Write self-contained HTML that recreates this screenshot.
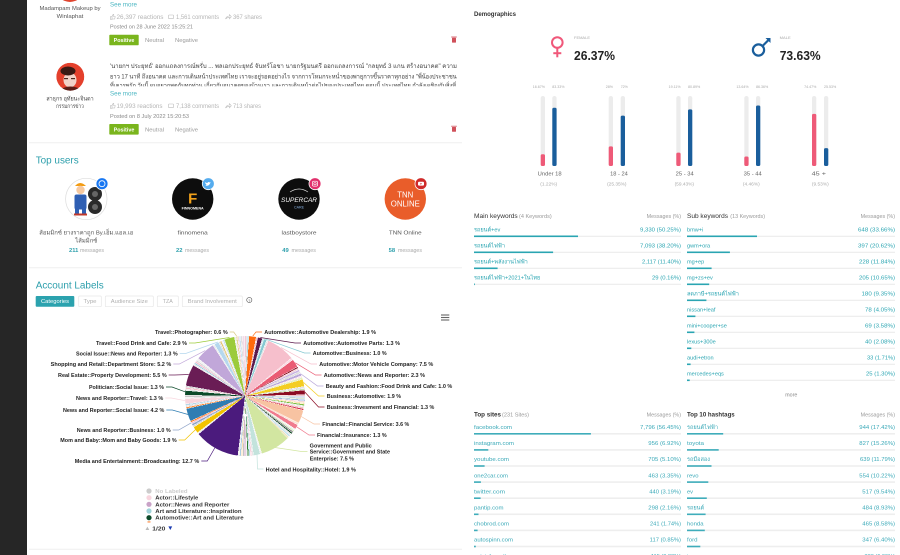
<!DOCTYPE html>
<html><head><meta charset="utf-8">
<style>
html,body{margin:0;padding:0;background:#fff;}
body{width:900px;height:555px;overflow:hidden;position:relative;}
svg{position:absolute;left:0;top:0;}
svg text{font-family:"Liberation Sans","DejaVu Sans","Noto Sans CJK SC",sans-serif;}
#pie{position:absolute;left:185px;top:335.5px;width:120px;height:120px;border-radius:50%;
background:conic-gradient(
#f6c7d5 0deg 1.1deg,#fff 1.1deg 1.5deg,
#cfcfcf 1.5deg 2.1deg,#fff 2.1deg 2.5deg,
#a9d6de 2.5deg 3.6deg,#fff 3.6deg 4deg,
#ff6a0d 4deg 10.6deg,#fff 10.6deg 11deg,
#f2c4cf 11deg 12.1deg,#fff 12.1deg 12.5deg,
#5b1a4c 12.5deg 16.6deg,#fff 16.6deg 17deg,
#cde9ee 17deg 18.1deg,#fff 18.1deg 18.5deg,
#86c9d2 18.5deg 21.1deg,#fff 21.1deg 21.5deg,
#e4e4e4 21.5deg 22.6deg,#fff 22.6deg 23deg,
#f6bfcc 23deg 50.6deg,#fff 50.6deg 51deg,
#f9dbe3 51deg 52.6deg,#fff 52.6deg 53deg,
#ea5c74 53deg 60.6deg,#fff 60.6deg 61deg,
#8b1a2b 61deg 62.1deg,#fff 62.1deg 62.5deg,
#f5d3da 62.5deg 63.6deg,#fff 63.6deg 64deg,
#c9b6e2 64deg 65.6deg,#fff 65.6deg 66deg,
#dedede 66deg 67.6deg,#fff 67.6deg 68deg,
#b9a7da 68deg 70.1deg,#fff 70.1deg 70.5deg,
#fbe3ea 70.5deg 71.6deg,#fff 71.6deg 72deg,
#e6f1bf 72deg 73.6deg,#fff 73.6deg 74deg,
#f4cd22 74deg 80.6deg,#fff 80.6deg 81deg,
#e3e3e3 81deg 82.6deg,#fff 82.6deg 83deg,
#c6dfb0 83deg 84.1deg,#fff 84.1deg 84.5deg,
#8c0c24 84.5deg 88.6deg,#fff 88.6deg 89deg,
#f4c7cc 89deg 90.1deg,#fff 90.1deg 90.5deg,
#b3c6df 90.5deg 91.6deg,#fff 91.6deg 92deg,
#dbead4 92deg 93.1deg,#fff 93.1deg 93.5deg,
#9db8e3 93.5deg 94.6deg,#fff 94.6deg 95deg,
#f7d8db 95deg 96.1deg,#fff 96.1deg 96.5deg,
#ffe5b0 96.5deg 97.6deg,#fff 97.6deg 98deg,
#7cbf45 98deg 99.1deg,#fff 99.1deg 99.5deg,
#e9e9e9 99.5deg 100.6deg,#fff 100.6deg 101deg,
#f2c3c3 101deg 102.1deg,#fff 102.1deg 102.5deg,
#d3304f 102.5deg 103.6deg,#fff 103.6deg 104deg,
#f8c3a2 104deg 116.6deg,#fff 116.6deg 117deg,
#fbe2d5 117deg 118.6deg,#fff 118.6deg 119deg,
#f07b8e 119deg 123.1deg,#fff 123.1deg 123.5deg,
#f1f1f1 123.5deg 124.6deg,#fff 124.6deg 125deg,
#dbecc6 125deg 126.1deg,#fff 126.1deg 126.5deg,
#8a8a8a 126.5deg 127.6deg,#fff 127.6deg 128deg,
#174d2b 128deg 129.1deg,#fff 129.1deg 129.5deg,
#e3e3e3 129.5deg 130.6deg,#fff 130.6deg 131deg,
#c9e4f0 131deg 132.6deg,#fff 132.6deg 133deg,
#efe4c0 133deg 134.6deg,#fff 134.6deg 135deg,
#d2e6a1 135deg 163.6deg,#fff 163.6deg 164deg,
#f2f2f2 164deg 165.1deg,#fff 165.1deg 165.5deg,
#c3e3dc 165.5deg 171.6deg,#fff 171.6deg 172deg,
#e6e6e6 172deg 173.1deg,#fff 173.1deg 173.5deg,
#f8d0dc 173.5deg 174.6deg,#fff 174.6deg 175deg,
#b4dbe9 175deg 176.1deg,#fff 176.1deg 176.5deg,
#2e7d32 176.5deg 177.6deg,#fff 177.6deg 178deg,
#f0f0f0 178deg 179.1deg,#fff 179.1deg 179.5deg,
#d3a6c9 179.5deg 180.6deg,#fff 180.6deg 181deg,
#c6c6c6 181deg 182.1deg,#fff 182.1deg 182.5deg,
#fde0b8 182.5deg 183.6deg,#fff 183.6deg 184deg,
#a9cce3 184deg 185.1deg,#fff 185.1deg 185.5deg,
#ececec 185.5deg 186.6deg,#fff 186.6deg 187deg,
#4b1b7d 187deg 230.6deg,#fff 230.6deg 231deg,
#ececec 231deg 232.1deg,#fff 232.1deg 232.5deg,
#f2c300 232.5deg 238.6deg,#fff 238.6deg 239deg,
#d6d6d6 239deg 240.1deg,#fff 240.1deg 240.5deg,
#8fa4c9 240.5deg 242.1deg,#fff 242.1deg 242.5deg,
#f3c1d1 242.5deg 243.6deg,#fff 243.6deg 244deg,
#ff7f2a 244deg 245.1deg,#fff 245.1deg 245.5deg,
#2f7db2 245.5deg 257.6deg,#fff 257.6deg 258deg,
#ff8c3a 258deg 259.1deg,#fff 259.1deg 259.5deg,
#e2e2e2 259.5deg 260.6deg,#fff 260.6deg 261deg,
#b7d7e8 261deg 262.1deg,#fff 262.1deg 262.5deg,
#f8d6de 262.5deg 267.1deg,#fff 267.1deg 267.5deg,
#e7e7e7 267.5deg 268.6deg,#fff 268.6deg 269deg,
#c7c7c7 269deg 270.6deg,#fff 270.6deg 271deg,
#0b4a29 271deg 275.1deg,#fff 275.1deg 275.5deg,
#e5e5e5 275.5deg 276.6deg,#fff 276.6deg 277deg,
#f5c1cb 277deg 278.1deg,#fff 278.1deg 278.5deg,
#d2d2d2 278.5deg 279.6deg,#fff 279.6deg 280deg,
#6a1d55 280deg 300.6deg,#fff 300.6deg 301deg,
#e8e8e8 301deg 302.1deg,#fff 302.1deg 302.5deg,
#9fcfe0 302.5deg 303.6deg,#fff 303.6deg 304deg,
#f7c0cf 304deg 305.1deg,#fff 305.1deg 305.5deg,
#dadada 305.5deg 306.6deg,#fff 306.6deg 307deg,
#f2f2f2 307deg 308.6deg,#fff 308.6deg 309deg,
#c1a7d9 309deg 327.6deg,#fff 327.6deg 328deg,
#ececec 328deg 329.1deg,#fff 329.1deg 329.5deg,
#b5d8ee 329.5deg 333.6deg,#fff 333.6deg 334deg,
#dddddd 334deg 335.1deg,#fff 335.1deg 335.5deg,
#e3c36b 335.5deg 336.6deg,#fff 336.6deg 337deg,
#f4f4f4 337deg 338.1deg,#fff 338.1deg 338.5deg,
#c5dff0 338.5deg 339.6deg,#fff 339.6deg 340deg,
#9ccb3b 340deg 349.6deg,#fff 349.6deg 350deg,
#eeeeee 350deg 351.1deg,#fff 351.1deg 351.5deg,
#e7d89b 351.5deg 352.6deg,#fff 352.6deg 353deg,
#f6d5e0 353deg 354.1deg,#fff 354.1deg 354.5deg,
#cbe3f3 354.5deg 355.6deg,#fff 355.6deg 356deg,
#e0e0e0 356deg 357.1deg,#fff 357.1deg 357.5deg,
#f2dbe8 357.5deg 359.6deg,#fff 359.6deg 360deg);}
</style></head><body>
<svg width="900" height="555" viewBox="0 0 900 555" xmlns="http://www.w3.org/2000/svg">
<defs>
<clipPath id="av2"><circle cx="70.3" cy="76.7" r="14"/></clipPath>
<clipPath id="line3"><rect x="100" y="60" width="370" height="26.3"/></clipPath>
<clipPath id="ua1"><circle cx="86.3" cy="199" r="20.3"/></clipPath>
</defs>
<rect x="0" y="0" width="900" height="555" fill="#fff"/>
<rect x="0" y="0" width="27" height="555" fill="#262626"/>

<!-- POST 1 -->
<circle cx="70" cy="-12" r="14" fill="#e0452f"/>
<text x="70" y="10" font-size="5.8" fill="#555" text-anchor="middle" textLength="61" lengthAdjust="spacingAndGlyphs">Madampam Makeup by</text>
<text x="70" y="18" font-size="5.8" fill="#555" text-anchor="middle" textLength="26.7" lengthAdjust="spacingAndGlyphs">Winlaphat</text>
<text x="110" y="6.5" font-size="6" fill="#4bb6c2" textLength="27" lengthAdjust="spacingAndGlyphs">See more</text>
<g stroke="#bbb" stroke-width="0.6" fill="none">
<path d="M110.5 16.5 h1.5 v3 h-1.5z M112 16.5 l1.2 -2.2 q0.8 0 0.6 1.2 l-0.2 1 h1.6 l-0.5 2.5 h-2.7"/>
<rect x="168.5" y="15" width="5" height="3.6" rx="0.5"/>
<path d="M225.5 19 q1 -3 4 -3 v-1.3 l1.8 2 -1.8 2 v-1.3 q-2.5 0 -4 1.6"/>
</g>
<text x="116.5" y="19.2" font-size="6.2" fill="#b5b5b5" textLength="47" lengthAdjust="spacingAndGlyphs">26,397 reactions</text>
<text x="176" y="19.2" font-size="6.2" fill="#b5b5b5" textLength="43" lengthAdjust="spacingAndGlyphs">1,561 comments</text>
<text x="233" y="19.2" font-size="6.2" fill="#b5b5b5" textLength="29" lengthAdjust="spacingAndGlyphs">367 shares</text>
<text x="110" y="28.7" font-size="5.8" fill="#8a8a8a" textLength="83" lengthAdjust="spacingAndGlyphs">Posted on 28 June 2022 15:25:21</text>
<rect x="109.3" y="34.7" width="29.4" height="10.6" fill="#7ab51d" rx="0.8"/>
<text x="124" y="42" font-size="5.8" font-weight="bold" fill="#fff" text-anchor="middle" textLength="20.7" lengthAdjust="spacingAndGlyphs">Positive</text>
<text x="145" y="42" font-size="5.8" fill="#9a9a9a" textLength="19" lengthAdjust="spacingAndGlyphs">Neutral</text>
<text x="175" y="42" font-size="5.8" fill="#9a9a9a" textLength="23" lengthAdjust="spacingAndGlyphs">Negative</text>
<g fill="#d0505a"><rect x="452" y="37.8" width="4" height="4.8" rx="0.5"/><rect x="451.2" y="36.6" width="5.6" height="0.8"/></g>

<!-- POST 2 -->
<g clip-path="url(#av2)">
<circle cx="70.3" cy="76.7" r="14" fill="#e4402c"/>
<ellipse cx="70" cy="80" rx="6.5" ry="7.5" fill="#f1d2c8"/>
<ellipse cx="68" cy="71" rx="7.5" ry="4.5" fill="#3a1a14"/>
<path d="M58 91 Q70 82 84 91 Z" fill="#5a1d16"/>
<rect x="64" y="78" width="4" height="1.2" fill="#4a2a22"/><rect x="71" y="78" width="4" height="1.2" fill="#4a2a22"/>
</g>
<text x="70" y="100.3" font-size="5.8" fill="#444" text-anchor="middle" textLength="47.3" lengthAdjust="spacingAndGlyphs">สาธุกร อุทัยนะจินดา</text>
<text x="70" y="108" font-size="5.8" fill="#444" text-anchor="middle" textLength="27.7" lengthAdjust="spacingAndGlyphs">กรรมการข่าว</text>
<text x="110" y="68" font-size="6.2" fill="#444" textLength="347" lengthAdjust="spacingAndGlyphs">'นายกฯ ประยุทธ์' ออกแถลงการณ์พรั่บ ... พลเอกประยุทธ์ จันทร์โอชา นายกรัฐมนตรี ออกแถลงการณ์ "กลยุทธ์ 3 แกน สร้างอนาคต" ความ</text>
<text x="110" y="78.3" font-size="6.2" fill="#444" textLength="346.7" lengthAdjust="spacingAndGlyphs">ยาว 17 นาที ถึงอนาคต และการเดินหน้าประเทศไทย เราจะอยู่รอดอย่างไร จากการโหมกระหน่ำของพายุการขึ้นราคาทุกอย่าง "พี่น้องประชาชน</text>
<g clip-path="url(#line3)"><text x="110" y="87.5" font-size="6.2" fill="#444" textLength="346" lengthAdjust="spacingAndGlyphs">ที่เคารพรัก วันนี้ ผมอยากพูดกับทุกท่าน เกี่ยวกับอนาคตของบ้านเรา และการเดินหน้าต่อไปของประเทศไทย ตอนนี้ ประเทศไทย กำลังเผชิญกับสิ่งที่</text></g>
<text x="110" y="95.7" font-size="6" fill="#4bb6c2" textLength="27" lengthAdjust="spacingAndGlyphs">See more</text>
<g stroke="#bbb" stroke-width="0.6" fill="none">
<path d="M110.5 105.5 h1.5 v3 h-1.5z M112 105.5 l1.2 -2.2 q0.8 0 0.6 1.2 l-0.2 1 h1.6 l-0.5 2.5 h-2.7"/>
<rect x="168.5" y="104" width="5" height="3.6" rx="0.5"/>
<path d="M225.5 108 q1 -3 4 -3 v-1.3 l1.8 2 -1.8 2 v-1.3 q-2.5 0 -4 1.6"/>
</g>
<text x="116.5" y="108.2" font-size="6.2" fill="#b5b5b5" textLength="46" lengthAdjust="spacingAndGlyphs">19,993 reactions</text>
<text x="176" y="108.2" font-size="6.2" fill="#b5b5b5" textLength="43" lengthAdjust="spacingAndGlyphs">7,138 comments</text>
<text x="233" y="108.2" font-size="6.2" fill="#b5b5b5" textLength="28" lengthAdjust="spacingAndGlyphs">713 shares</text>
<text x="110" y="118" font-size="5.8" fill="#8a8a8a" textLength="79" lengthAdjust="spacingAndGlyphs">Posted on 8 July 2022 15:20:53</text>
<rect x="109.3" y="124" width="29.4" height="10.6" fill="#7ab51d" rx="0.8"/>
<text x="124" y="131.3" font-size="5.8" font-weight="bold" fill="#fff" text-anchor="middle" textLength="20.7" lengthAdjust="spacingAndGlyphs">Positive</text>
<text x="145" y="131.3" font-size="5.8" fill="#9a9a9a" textLength="19" lengthAdjust="spacingAndGlyphs">Neutral</text>
<text x="175" y="131.3" font-size="5.8" fill="#9a9a9a" textLength="23" lengthAdjust="spacingAndGlyphs">Negative</text>
<g fill="#d0505a"><rect x="452" y="127" width="4" height="4.8" rx="0.5"/><rect x="451.2" y="125.8" width="5.6" height="0.8"/></g>
<line x1="29" y1="142.7" x2="462" y2="142.7" stroke="#efefef" stroke-width="1"/>

<!-- TOP USERS -->
<text x="35.7" y="163.5" font-size="10" fill="#2d9fac" textLength="43" lengthAdjust="spacingAndGlyphs">Top users</text>
<!-- avatar 1 -->
<circle cx="86.3" cy="199" r="20.7" fill="#fff" stroke="#dcdcdc" stroke-width="0.7"/>
<g clip-path="url(#ua1)">
<circle cx="95" cy="194" r="7" fill="#2a2a2a"/><circle cx="95" cy="194" r="3" fill="#666"/>
<circle cx="95" cy="207" r="7" fill="#2a2a2a"/><circle cx="95" cy="207" r="3" fill="#666"/>
<path d="M75 186 q5 -6 11 0 z" fill="#f39c12"/>
<circle cx="80.5" cy="190" r="4.2" fill="#f6c9a0"/>
<rect x="74.5" y="194.5" width="12" height="15" rx="2" fill="#2f5fb3"/>
<rect x="75" y="209" width="4" height="5" fill="#2f5fb3"/><rect x="82" y="209" width="4" height="5" fill="#2f5fb3"/>
<rect x="74" y="213.5" width="13" height="2" fill="#c0392b"/>
</g>
<!-- avatar 2 -->
<circle cx="192.7" cy="199" r="20.7" fill="#0d0d0d"/>
<text x="192.7" y="203.5" font-size="15" font-weight="bold" fill="#f2a21b" text-anchor="middle">F</text>
<text x="192.7" y="209.5" font-size="3.4" font-weight="bold" fill="#fff" text-anchor="middle" textLength="22" lengthAdjust="spacingAndGlyphs">FINNOMENA</text>
<!-- avatar 3 -->
<circle cx="299" cy="199" r="20.7" fill="#0d0d0d"/>
<path d="M290 192 q9 -6 18 0" stroke="#ddd" stroke-width="0.7" fill="none"/>
<text x="299" y="202" font-size="6.8" font-style="italic" fill="#fff" text-anchor="middle" textLength="36" lengthAdjust="spacingAndGlyphs">SUPERCAR</text>
<text x="299" y="208.5" font-size="3.4" fill="#8ab4e6" text-anchor="middle" textLength="10" lengthAdjust="spacingAndGlyphs">CARE</text>
<!-- avatar 4 -->
<circle cx="405.3" cy="199" r="20.7" fill="#e95d2a"/>
<text x="405.3" y="197.5" font-size="8" fill="#fff" text-anchor="middle" textLength="16" lengthAdjust="spacingAndGlyphs">TNN</text>
<text x="405.3" y="206.5" font-size="8" fill="#fff" text-anchor="middle" textLength="29" lengthAdjust="spacingAndGlyphs">ONLINE</text>
<!-- badges -->
<circle cx="102" cy="183.7" r="6" fill="#1877f2" stroke="#fff" stroke-width="0.8"/>
<circle cx="102" cy="183.7" r="3" fill="none" stroke="#fff" stroke-width="0.8"/>
<circle cx="208.3" cy="183.7" r="6" fill="#55acee" stroke="#fff" stroke-width="0.8"/>
<path d="M205.5 185.5 q3 1 4.5 -2 l0.8 -1.2 -1 0.2 q-1.5 -1.2 -2.5 0.5 q-1.5 0 -2.2 -1 q0 2 1.5 2.5 q-0.8 0.5 -1.1 1z" fill="#fff"/>
<circle cx="315" cy="183.7" r="6" fill="#e1306c" stroke="#fff" stroke-width="0.8"/>
<rect x="312.5" y="181.2" width="5" height="5" rx="1.3" fill="none" stroke="#fff" stroke-width="0.7"/>
<circle cx="315" cy="183.7" r="1.2" fill="none" stroke="#fff" stroke-width="0.6"/>
<circle cx="421" cy="183.7" r="6" fill="#cf2a2a" stroke="#fff" stroke-width="0.8"/>
<rect x="418" y="181.8" width="6" height="3.8" rx="1" fill="#fff"/>
<path d="M420.4 182.7 v2 l1.6 -1z" fill="#cf2a2a"/>
<!-- names -->
<text x="86.3" y="234.7" font-size="5.8" fill="#555" text-anchor="middle" textLength="94" lengthAdjust="spacingAndGlyphs">ส้อมมิกซ์ ยางราคาถูก By.เอ็ม.แอล.เอ</text>
<text x="86.3" y="242.7" font-size="5.8" fill="#555" text-anchor="middle" textLength="22" lengthAdjust="spacingAndGlyphs">ไส้มมิกซ์</text>
<text x="192.7" y="234.7" font-size="5.8" fill="#555" text-anchor="middle" textLength="30" lengthAdjust="spacingAndGlyphs">finnomena</text>
<text x="299" y="234.7" font-size="5.8" fill="#555" text-anchor="middle" textLength="35" lengthAdjust="spacingAndGlyphs">lastboystore</text>
<text x="405.3" y="234.7" font-size="5.8" fill="#555" text-anchor="middle" textLength="32.7" lengthAdjust="spacingAndGlyphs">TNN Online</text>
<g font-size="5.2">
<text x="69" y="252" font-weight="bold" fill="#2d9fac" textLength="9.3" lengthAdjust="spacingAndGlyphs">211</text>
<text x="80" y="252" fill="#aaa" textLength="24" lengthAdjust="spacingAndGlyphs">messages</text>
<text x="176" y="252" font-weight="bold" fill="#2d9fac" textLength="6.5" lengthAdjust="spacingAndGlyphs">22</text>
<text x="185" y="252" fill="#aaa" textLength="24" lengthAdjust="spacingAndGlyphs">messages</text>
<text x="282.3" y="252" font-weight="bold" fill="#2d9fac" textLength="6.5" lengthAdjust="spacingAndGlyphs">49</text>
<text x="291.5" y="252" fill="#aaa" textLength="24.5" lengthAdjust="spacingAndGlyphs">messages</text>
<text x="388.7" y="252" font-weight="bold" fill="#2d9fac" textLength="6.5" lengthAdjust="spacingAndGlyphs">58</text>
<text x="398" y="252" fill="#aaa" textLength="24" lengthAdjust="spacingAndGlyphs">messages</text>
</g>
<line x1="29" y1="267.7" x2="462" y2="267.7" stroke="#efefef" stroke-width="1"/>

<!-- ACCOUNT LABELS -->
<text x="35.7" y="288.5" font-size="10" fill="#2d9fac" textLength="68" lengthAdjust="spacingAndGlyphs">Account Labels</text>
<rect x="35.7" y="296" width="38.6" height="10.7" rx="1" fill="#2ba2ae"/>
<text x="55" y="303.2" font-size="5.3" fill="#fff" text-anchor="middle" textLength="28" lengthAdjust="spacingAndGlyphs">Categories</text>
<g fill="#fff" stroke="#e6e6e6" stroke-width="0.7">
<rect x="78.7" y="296" width="22.6" height="10.7" rx="1"/>
<rect x="105.3" y="296" width="48" height="10.7" rx="1"/>
<rect x="157.3" y="296" width="21" height="10.7" rx="1"/>
<rect x="182.3" y="296" width="60" height="10.7" rx="1"/>
</g>
<g font-size="5.3" fill="#b0b0b0" text-anchor="middle">
<text x="90" y="303.2" textLength="13" lengthAdjust="spacingAndGlyphs">Type</text>
<text x="129.3" y="303.2" textLength="37" lengthAdjust="spacingAndGlyphs">Audience Size</text>
<text x="167.8" y="303.2" textLength="10" lengthAdjust="spacingAndGlyphs">TZA</text>
<text x="212.3" y="303.2" textLength="49" lengthAdjust="spacingAndGlyphs">Brand Involvement</text>
</g>
<circle cx="249.3" cy="300" r="2.6" fill="none" stroke="#555" stroke-width="0.6"/>
<text x="249.3" y="301.8" font-size="4" fill="#555" text-anchor="middle">?</text>
<g stroke="#666" stroke-width="1.1"><line x1="441" y1="315" x2="449.3" y2="315"/><line x1="441" y1="317.5" x2="449.3" y2="317.5"/><line x1="441" y1="320" x2="449.3" y2="320"/></g>

<!-- connectors -->
<g fill="none" stroke-width="0.7">
<polyline points="252.8,336 256,332 262,332" stroke="#ff6a0d"/>
<polyline points="260.3,337.5 295,343 301,343" stroke="#5b1a4c"/>
<polyline points="265.5,339.1 304.5,353 310.5,353" stroke="#86c9d2"/>
<polyline points="281.1,347.6 311,364 317,364" stroke="#f6bfcc"/>
<polyline points="295.3,362.8 315.5,375 321.5,375" stroke="#ea5c74"/>
<polyline points="301,374 317.5,386 323.5,386" stroke="#b9a7da"/>
<polyline points="303.6,382.5 318.5,396 324.5,396" stroke="#f4cd22"/>
<polyline points="304.9,392.1 318.5,407 324.5,407" stroke="#8c0c24"/>
<polyline points="301.2,416.5 314,424 320,424" stroke="#f8c3a2"/>
<polyline points="296.3,426.6 309,435 315,435" stroke="#f07b8e"/>
<polyline points="275,447.5 301.5,451.5 307.5,451.5" stroke="#d2e6a1"/>
<polyline points="257,454.3 257.5,469 263.5,469" stroke="#c3e3dc"/>
<polyline points="236.6,336.1 233.7,332 229.7,332" stroke="#d9c884"/>
<polyline points="229.5,337.5 195,343 189,343" stroke="#9ccb3b"/>
<polyline points="217.8,342 185.7,353.5 179.7,353.5" stroke="#b5d8ee"/>
<polyline points="205.2,350.6 179.3,364 173.3,364" stroke="#c1a7d9"/>
<polyline points="188.8,374.5 174.7,375 168.7,375" stroke="#6a1d55"/>
<polyline points="185.1,391.8 172,387 166,387" stroke="#0b4a29"/>
<polyline points="185.2,400.7 171.3,398 165.3,398" stroke="#f8d6de"/>
<polyline points="188.1,414.5 172.3,410 166.3,410" stroke="#2f7db2"/>
<polyline points="191.5,422.7 178.7,430 172.7,430" stroke="#8fa4c9"/>
<polyline points="195.6,429.5 184.7,440 178.7,440" stroke="#f2c300"/>
<polyline points="215,447.5 207.3,461 201.3,461" stroke="#4b1b7d"/>
</g>
<!-- pie labels -->
<g font-size="5.5" font-weight="bold" fill="#222">
<text x="227.7" y="334" text-anchor="end" textLength="72.7" lengthAdjust="spacingAndGlyphs">Travel::Photographer: 0.6 %</text>
<text x="187" y="345" text-anchor="end" textLength="91" lengthAdjust="spacingAndGlyphs">Travel::Food Drink and Cafe: 2.9 %</text>
<text x="177.7" y="355.5" text-anchor="end" textLength="101.7" lengthAdjust="spacingAndGlyphs">Social Issue::News and Reporter: 1.3 %</text>
<text x="171.3" y="366" text-anchor="end" textLength="120.6" lengthAdjust="spacingAndGlyphs">Shopping and Retail::Department Store: 5.2 %</text>
<text x="166.7" y="377" text-anchor="end" textLength="108.7" lengthAdjust="spacingAndGlyphs">Real Estate::Property Development: 5.5 %</text>
<text x="164" y="389" text-anchor="end" textLength="75" lengthAdjust="spacingAndGlyphs">Politician::Social Issue: 1.3 %</text>
<text x="163.3" y="400" text-anchor="end" textLength="87.3" lengthAdjust="spacingAndGlyphs">News and Reporter::Travel: 1.3 %</text>
<text x="164.3" y="412" text-anchor="end" textLength="101.3" lengthAdjust="spacingAndGlyphs">News and Reporter::Social Issue: 4.2 %</text>
<text x="170.7" y="432" text-anchor="end" textLength="94" lengthAdjust="spacingAndGlyphs">News and Reporter::Business: 1.0 %</text>
<text x="176.7" y="442" text-anchor="end" textLength="116.4" lengthAdjust="spacingAndGlyphs">Mom and Baby::Mom and Baby Goods: 1.9 %</text>
<text x="199.3" y="463" text-anchor="end" textLength="124.6" lengthAdjust="spacingAndGlyphs">Media and Entertainment::Broadcasting: 12.7 %</text>
<text x="264.3" y="334" textLength="111.7" lengthAdjust="spacingAndGlyphs">Automotive::Automotive Dealership: 1.9 %</text>
<text x="303.3" y="345" textLength="96.7" lengthAdjust="spacingAndGlyphs">Automotive::Automotive Parts: 1.3 %</text>
<text x="312.7" y="355" textLength="74" lengthAdjust="spacingAndGlyphs">Automotive::Business: 1.0 %</text>
<text x="319.3" y="366" textLength="114" lengthAdjust="spacingAndGlyphs">Automotive::Motor Vehicle Company: 7.5 %</text>
<text x="323.7" y="377" textLength="101.3" lengthAdjust="spacingAndGlyphs">Automotive::News and Reporter: 2.3 %</text>
<text x="325.7" y="388" textLength="126.6" lengthAdjust="spacingAndGlyphs">Beauty and Fashion::Food Drink and Cafe: 1.0 %</text>
<text x="326.7" y="398" textLength="74.3" lengthAdjust="spacingAndGlyphs">Business::Automotive: 1.9 %</text>
<text x="326.7" y="409" textLength="107.6" lengthAdjust="spacingAndGlyphs">Business::Invesment and Financial: 1.3 %</text>
<text x="322.3" y="426" textLength="87" lengthAdjust="spacingAndGlyphs">Financial::Financial Service: 3.6 %</text>
<text x="317" y="437" textLength="69.7" lengthAdjust="spacingAndGlyphs">Financial::Insurance: 1.3 %</text>
<text x="309.7" y="447.3" textLength="62" lengthAdjust="spacingAndGlyphs">Government and Public</text>
<text x="309.7" y="453.7" textLength="80.3" lengthAdjust="spacingAndGlyphs">Service::Government and State</text>
<text x="309.7" y="460.3" textLength="44.3" lengthAdjust="spacingAndGlyphs">Enterprise: 7.5 %</text>
<text x="265.7" y="471.3" textLength="90.3" lengthAdjust="spacingAndGlyphs">Hotel and Hospitality::Hotel: 1.9 %</text>
</g>
<!-- legend -->
<circle cx="149" cy="491" r="2.6" fill="#cccccc"/>
<circle cx="149" cy="497.7" r="2.6" fill="#f8d5de"/>
<circle cx="149" cy="504.3" r="2.6" fill="#c9a3c7"/>
<circle cx="149" cy="511" r="2.6" fill="#9fd3d9"/>
<circle cx="149" cy="517.7" r="2.6" fill="#0d4a2a"/>
<rect x="147.5" y="521.5" width="3" height="0.9" fill="#ff6a0d"/>
<g font-size="5.6" font-weight="bold">
<text x="155.3" y="493" fill="#cccccc" textLength="32.3" lengthAdjust="spacingAndGlyphs">No Labeled</text>
<text x="155.3" y="499.7" fill="#333" textLength="43" lengthAdjust="spacingAndGlyphs">Actor::Lifestyle</text>
<text x="155.3" y="506.3" fill="#333" textLength="74" lengthAdjust="spacingAndGlyphs">Actor::News and Reporter</text>
<text x="155.3" y="513" fill="#333" textLength="86.3" lengthAdjust="spacingAndGlyphs">Art and Literature::Inspiration</text>
<text x="155.3" y="519.7" fill="#333" textLength="88.3" lengthAdjust="spacingAndGlyphs">Automotive::Art and Literature</text>
<text x="152.3" y="530.3" fill="#333" textLength="13" lengthAdjust="spacingAndGlyphs">1/20</text>
</g>
<path d="M145.5 530 l1.9 -3.4 1.9 3.4z" fill="#bbb"/>
<path d="M168.4 526.4 h3.8 l-1.9 3.6z" fill="#1a3ab0"/>
<line x1="29" y1="549.3" x2="462" y2="549.3" stroke="#efefef" stroke-width="1"/>

<!-- DEMOGRAPHICS -->
<text x="474" y="16.2" font-size="6.2" font-weight="bold" fill="#333" textLength="42" lengthAdjust="spacingAndGlyphs">Demographics</text>
<g stroke="#f0587a" stroke-width="2" fill="none">
<circle cx="557.3" cy="42.5" r="5.3"/>
<line x1="557.3" y1="47.8" x2="557.3" y2="57.3"/>
<line x1="553.3" y1="53.2" x2="561.3" y2="53.2"/>
</g>
<g stroke="#1a5e9c" stroke-width="2.2" fill="none">
<circle cx="758.5" cy="50" r="5.6"/>
<line x1="762.5" y1="46" x2="769" y2="39.5"/>
</g>
<path d="M765.5 38 h5 v5 z" fill="#1a5e9c"/>
<text x="574" y="39.2" font-size="4" fill="#aaa" textLength="16" lengthAdjust="spacingAndGlyphs">FEMALE</text>
<text x="574" y="60" font-size="12.5" font-weight="bold" fill="#222" textLength="41" lengthAdjust="spacingAndGlyphs">26.37%</text>
<text x="779.7" y="39.2" font-size="4" fill="#aaa" textLength="11" lengthAdjust="spacingAndGlyphs">MALE</text>
<text x="779.7" y="60" font-size="12.5" font-weight="bold" fill="#222" textLength="41" lengthAdjust="spacingAndGlyphs">73.63%</text>
<g fill="#ececec">
<rect x="540.7" y="96" width="4.3" height="70" rx="2.1"/><rect x="552.3" y="96" width="4.3" height="70" rx="2.1"/>
<rect x="608.7" y="96" width="4.3" height="70" rx="2.1"/><rect x="620.7" y="96" width="4.3" height="70" rx="2.1"/>
<rect x="676.3" y="96" width="4.3" height="70" rx="2.1"/><rect x="688" y="96" width="4.3" height="70" rx="2.1"/>
<rect x="744.3" y="96" width="4.3" height="70" rx="2.1"/><rect x="756" y="96" width="4.3" height="70" rx="2.1"/>
<rect x="812" y="96" width="4.3" height="70" rx="2.1"/><rect x="824" y="96" width="4.3" height="70" rx="2.1"/>
</g>
<g fill="#ee5a78">
<rect x="540.7" y="154.3" width="4.3" height="11.7" rx="1.5"/>
<rect x="608.7" y="146.4" width="4.3" height="19.6" rx="1.5"/>
<rect x="676.3" y="152.6" width="4.3" height="13.4" rx="1.5"/>
<rect x="744.3" y="156.5" width="4.3" height="9.5" rx="1.5"/>
<rect x="812" y="113.9" width="4.3" height="52.1" rx="1.5"/>
</g>
<g fill="#1a5e9c">
<rect x="552.3" y="107.7" width="4.3" height="58.3" rx="1.5"/>
<rect x="620.7" y="115.6" width="4.3" height="50.4" rx="1.5"/>
<rect x="688" y="109.4" width="4.3" height="56.6" rx="1.5"/>
<rect x="756" y="105.5" width="4.3" height="60.5" rx="1.5"/>
<rect x="824" y="148.1" width="4.3" height="17.9" rx="1.5"/>
</g>
<g font-size="3.6" fill="#aaa">
<text x="545" y="88" text-anchor="end">16.67%</text><text x="552.3" y="88">83.33%</text>
<text x="613" y="88" text-anchor="end">28%</text><text x="620.7" y="88">72%</text>
<text x="680.6" y="88" text-anchor="end">19.11%</text><text x="688" y="88">80.89%</text>
<text x="748.6" y="88" text-anchor="end">13.64%</text><text x="756" y="88">86.36%</text>
<text x="816.3" y="88" text-anchor="end">74.47%</text><text x="824" y="88">25.53%</text>
</g>
<g font-size="5.5" fill="#666" text-anchor="middle">
<text x="549.7" y="175.7" textLength="24" lengthAdjust="spacingAndGlyphs">Under 18</text>
<text x="619" y="175.7" textLength="17.7" lengthAdjust="spacingAndGlyphs">18 - 24</text>
<text x="684.7" y="175.7" textLength="18" lengthAdjust="spacingAndGlyphs">25 - 34</text>
<text x="752.7" y="175.7" textLength="18" lengthAdjust="spacingAndGlyphs">35 - 44</text>
<text x="818.8" y="175.7" textLength="14.3" lengthAdjust="spacingAndGlyphs">45 +</text>
</g>
<g font-size="4.8" fill="#aaa" text-anchor="middle">
<text x="548.7" y="185.5">(1.22%)</text>
<text x="616.8" y="185.5">(25.35%)</text>
<text x="684.3" y="185.5">(59.43%)</text>
<text x="751.3" y="185.5">(4.46%)</text>
<text x="820.3" y="185.5">(9.53%)</text>
</g>

<!-- MAIN KEYWORDS -->
<text x="474" y="218.2" font-size="6.4" fill="#333" textLength="43.7" lengthAdjust="spacingAndGlyphs">Main keywords</text>
<text x="519" y="218.2" font-size="5.3" fill="#999" textLength="32.7" lengthAdjust="spacingAndGlyphs">(4 Keywords)</text>
<text x="681" y="218.2" font-size="5.3" fill="#999" text-anchor="end" textLength="34.3" lengthAdjust="spacingAndGlyphs">Messages (%)</text>
<text x="687" y="218.2" font-size="6.4" fill="#333" textLength="41" lengthAdjust="spacingAndGlyphs">Sub keywords</text>
<text x="730.3" y="218.2" font-size="5.3" fill="#999" textLength="34.7" lengthAdjust="spacingAndGlyphs">(13 Keywords)</text>
<text x="895" y="218.2" font-size="5.3" fill="#999" text-anchor="end" textLength="34.3" lengthAdjust="spacingAndGlyphs">Messages (%)</text>
<g fill="#eeeeee">
<rect x="474" y="235.7" width="207" height="1.3"/><rect x="474" y="251.7" width="207" height="1.3"/><rect x="474" y="267.7" width="207" height="1.3"/><rect x="474" y="283.7" width="207" height="1.3"/>
<rect x="687" y="235.7" width="208" height="1.3"/><rect x="687" y="251.7" width="208" height="1.3"/><rect x="687" y="267.7" width="208" height="1.3"/><rect x="687" y="283.7" width="208" height="1.3"/><rect x="687" y="299.7" width="208" height="1.3"/><rect x="687" y="315.7" width="208" height="1.3"/><rect x="687" y="331.7" width="208" height="1.3"/><rect x="687" y="347.7" width="208" height="1.3"/><rect x="687" y="363.7" width="208" height="1.3"/><rect x="687" y="379.7" width="208" height="1.3"/>
</g>
<g fill="#2aa5b2">
<rect x="474" y="235.5" width="104" height="1.6"/><rect x="474" y="251.5" width="79.1" height="1.6"/><rect x="474" y="267.5" width="23.6" height="1.6"/><rect x="474" y="283.5" width="0.8" height="1.6"/>
<rect x="687" y="235.5" width="70" height="1.6"/><rect x="687" y="251.5" width="42.9" height="1.6"/><rect x="687" y="267.5" width="24.6" height="1.6"/><rect x="687" y="283.5" width="22.2" height="1.6"/><rect x="687" y="299.5" width="19.4" height="1.6"/><rect x="687" y="315.5" width="8.4" height="1.6"/><rect x="687" y="331.5" width="7.4" height="1.6"/><rect x="687" y="347.5" width="4.3" height="1.6"/><rect x="687" y="363.5" width="3.6" height="1.6"/><rect x="687" y="379.5" width="2.7" height="1.6"/>
</g>
<g font-size="5.6" fill="#2aa5b2">
<text x="474" y="231.7">รถยนต์+ev</text>
<text x="474" y="247.7">รถยนต์ไฟฟ้า</text>
<text x="474" y="263.7">รถยนต์+พลังงานไฟฟ้า</text>
<text x="474" y="279.7">รถยนต์ไฟฟ้า+2021+ในไทย</text>
<text x="681" y="231.7" text-anchor="end" textLength="41" lengthAdjust="spacingAndGlyphs">9,330 (50.25%)</text>
<text x="681" y="247.7" text-anchor="end" textLength="41" lengthAdjust="spacingAndGlyphs">7,093 (38.20%)</text>
<text x="681" y="263.7" text-anchor="end" textLength="39" lengthAdjust="spacingAndGlyphs">2,117 (11.40%)</text>
<text x="681" y="279.7" text-anchor="end" textLength="29" lengthAdjust="spacingAndGlyphs">29 (0.16%)</text>
<text x="687" y="231.7">bmw+i</text>
<text x="687" y="247.7">gwm+ora</text>
<text x="687" y="263.7">mg+ep</text>
<text x="687" y="279.7">mg+zs+ev</text>
<text x="687" y="295.7">ลดภาษี+รถยนต์ไฟฟ้า</text>
<text x="687" y="311.7">nissan+leaf</text>
<text x="687" y="327.7">mini+cooper+se</text>
<text x="687" y="343.7">lexus+300e</text>
<text x="687" y="359.7">audi+etron</text>
<text x="687" y="375.7">mercedes+eqs</text>
<text x="895" y="231.7" text-anchor="end" textLength="37" lengthAdjust="spacingAndGlyphs">648 (33.66%)</text>
<text x="895" y="247.7" text-anchor="end" textLength="37" lengthAdjust="spacingAndGlyphs">397 (20.62%)</text>
<text x="895" y="263.7" text-anchor="end" textLength="36" lengthAdjust="spacingAndGlyphs">228 (11.84%)</text>
<text x="895" y="279.7" text-anchor="end" textLength="36" lengthAdjust="spacingAndGlyphs">205 (10.65%)</text>
<text x="895" y="295.7" text-anchor="end" textLength="33.5" lengthAdjust="spacingAndGlyphs">180 (9.35%)</text>
<text x="895" y="311.7" text-anchor="end" textLength="30" lengthAdjust="spacingAndGlyphs">78 (4.05%)</text>
<text x="895" y="327.7" text-anchor="end" textLength="30" lengthAdjust="spacingAndGlyphs">69 (3.58%)</text>
<text x="895" y="343.7" text-anchor="end" textLength="30" lengthAdjust="spacingAndGlyphs">40 (2.08%)</text>
<text x="895" y="359.7" text-anchor="end" textLength="28" lengthAdjust="spacingAndGlyphs">33 (1.71%)</text>
<text x="895" y="375.7" text-anchor="end" textLength="29" lengthAdjust="spacingAndGlyphs">25 (1.30%)</text>
</g>
<text x="791.3" y="396.7" font-size="5.3" fill="#888" text-anchor="middle">more</text>

<!-- TOP SITES / HASHTAGS -->
<text x="474" y="416.3" font-size="6.2" font-weight="bold" fill="#333" textLength="27" lengthAdjust="spacingAndGlyphs">Top sites</text>
<text x="502" y="416.3" font-size="5.3" fill="#999" textLength="27" lengthAdjust="spacingAndGlyphs">(231 Sites)</text>
<text x="681" y="416.3" font-size="5.3" fill="#999" text-anchor="end" textLength="34.3" lengthAdjust="spacingAndGlyphs">Messages (%)</text>
<text x="687" y="416.3" font-size="6.2" font-weight="bold" fill="#333" textLength="47.7" lengthAdjust="spacingAndGlyphs">Top 10 hashtags</text>
<text x="895" y="416.3" font-size="5.3" fill="#999" text-anchor="end" textLength="34.3" lengthAdjust="spacingAndGlyphs">Messages (%)</text>
<g fill="#eeeeee">
<rect x="474" y="433" width="207" height="1.6"/><rect x="474" y="449.1" width="207" height="1.6"/><rect x="474" y="465.2" width="207" height="1.6"/><rect x="474" y="481.3" width="207" height="1.6"/><rect x="474" y="497.4" width="207" height="1.6"/><rect x="474" y="513.5" width="207" height="1.6"/><rect x="474" y="529.6" width="207" height="1.6"/><rect x="474" y="545.7" width="207" height="1.6"/>
<rect x="687" y="433" width="208" height="1.6"/><rect x="687" y="449.1" width="208" height="1.6"/><rect x="687" y="465.2" width="208" height="1.6"/><rect x="687" y="481.3" width="208" height="1.6"/><rect x="687" y="497.4" width="208" height="1.6"/><rect x="687" y="513.5" width="208" height="1.6"/><rect x="687" y="529.6" width="208" height="1.6"/><rect x="687" y="545.7" width="208" height="1.6"/>
</g>
<g fill="#3fadbb">
<rect x="474" y="433" width="116.9" height="1.6"/><rect x="474" y="449.1" width="14.3" height="1.6"/><rect x="474" y="465.2" width="10.6" height="1.6"/><rect x="474" y="481.3" width="6.9" height="1.6"/><rect x="474" y="497.4" width="6.6" height="1.6"/><rect x="474" y="513.5" width="4.5" height="1.6"/><rect x="474" y="529.6" width="3.6" height="1.6"/><rect x="474" y="545.7" width="1.8" height="1.6"/>
<rect x="687" y="433" width="36.2" height="1.6"/><rect x="687" y="449.1" width="31.7" height="1.6"/><rect x="687" y="465.2" width="24.5" height="1.6"/><rect x="687" y="481.3" width="21.3" height="1.6"/><rect x="687" y="497.4" width="19.8" height="1.6"/><rect x="687" y="513.5" width="18.6" height="1.6"/><rect x="687" y="529.6" width="17.8" height="1.6"/><rect x="687" y="545.7" width="13.3" height="1.6"/>
</g>
<g font-size="5.6" fill="#3aa9b8">
<text x="474" y="429" textLength="38" lengthAdjust="spacingAndGlyphs">facebook.com</text>
<text x="474" y="445.1" textLength="40" lengthAdjust="spacingAndGlyphs">instagram.com</text>
<text x="474" y="461.2" textLength="35" lengthAdjust="spacingAndGlyphs">youtube.com</text>
<text x="474" y="477.3" textLength="34" lengthAdjust="spacingAndGlyphs">one2car.com</text>
<text x="474" y="493.4" textLength="31" lengthAdjust="spacingAndGlyphs">twitter.com</text>
<text x="474" y="509.5" textLength="29.5" lengthAdjust="spacingAndGlyphs">pantip.com</text>
<text x="474" y="525.6" textLength="35" lengthAdjust="spacingAndGlyphs">chobrod.com</text>
<text x="474" y="541.7" textLength="39" lengthAdjust="spacingAndGlyphs">autospinn.com</text>
<text x="474" y="557.8">autoinfo.co.th</text>
<text x="681" y="429" text-anchor="end" textLength="41" lengthAdjust="spacingAndGlyphs">7,796 (56.45%)</text>
<text x="681" y="445.1" text-anchor="end" textLength="32.7" lengthAdjust="spacingAndGlyphs">956 (6.92%)</text>
<text x="681" y="461.2" text-anchor="end" textLength="32.7" lengthAdjust="spacingAndGlyphs">705 (5.10%)</text>
<text x="681" y="477.3" text-anchor="end" textLength="32.7" lengthAdjust="spacingAndGlyphs">463 (3.35%)</text>
<text x="681" y="493.4" text-anchor="end" textLength="31.7" lengthAdjust="spacingAndGlyphs">440 (3.19%)</text>
<text x="681" y="509.5" text-anchor="end" textLength="32.7" lengthAdjust="spacingAndGlyphs">298 (2.16%)</text>
<text x="681" y="525.6" text-anchor="end" textLength="31" lengthAdjust="spacingAndGlyphs">241 (1.74%)</text>
<text x="681" y="541.7" text-anchor="end" textLength="31.3" lengthAdjust="spacingAndGlyphs">117 (0.85%)</text>
<text x="681" y="557.8" text-anchor="end">115 (0.83%)</text>
<text x="687" y="429">รถยนต์ไฟฟ้า</text>
<text x="687" y="445.1" textLength="17" lengthAdjust="spacingAndGlyphs">toyota</text>
<text x="687" y="461.2">รถมือสอง</text>
<text x="687" y="477.3" textLength="11.5" lengthAdjust="spacingAndGlyphs">revo</text>
<text x="687" y="493.4" textLength="6" lengthAdjust="spacingAndGlyphs">ev</text>
<text x="687" y="509.5">รถยนต์</text>
<text x="687" y="525.6" textLength="16.5" lengthAdjust="spacingAndGlyphs">honda</text>
<text x="687" y="541.7" textLength="10.5" lengthAdjust="spacingAndGlyphs">ford</text>
<text x="687" y="557.8">isuzu</text>
<text x="895" y="429" text-anchor="end" textLength="35.7" lengthAdjust="spacingAndGlyphs">944 (17.42%)</text>
<text x="895" y="445.1" text-anchor="end" textLength="35.7" lengthAdjust="spacingAndGlyphs">827 (15.26%)</text>
<text x="895" y="461.2" text-anchor="end" textLength="35" lengthAdjust="spacingAndGlyphs">639 (11.79%)</text>
<text x="895" y="477.3" text-anchor="end" textLength="35.7" lengthAdjust="spacingAndGlyphs">554 (10.22%)</text>
<text x="895" y="493.4" text-anchor="end" textLength="32.7" lengthAdjust="spacingAndGlyphs">517 (9.54%)</text>
<text x="895" y="509.5" text-anchor="end" textLength="32.7" lengthAdjust="spacingAndGlyphs">484 (8.93%)</text>
<text x="895" y="525.6" text-anchor="end" textLength="32.7" lengthAdjust="spacingAndGlyphs">465 (8.58%)</text>
<text x="895" y="541.7" text-anchor="end" textLength="32.7" lengthAdjust="spacingAndGlyphs">347 (6.40%)</text>
<text x="895" y="557.8" text-anchor="end">330 (6.09%)</text>
</g>
</svg>
<div id="pie"></div>
</body></html>
